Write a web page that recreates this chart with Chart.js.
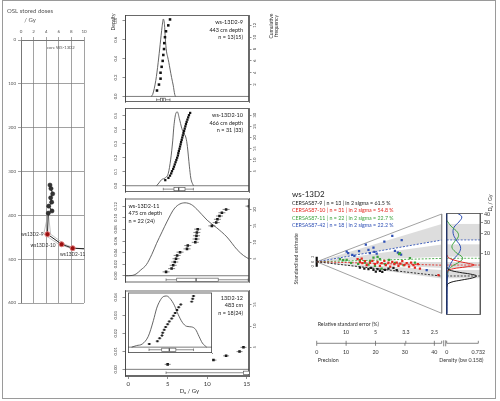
<!DOCTYPE html>
<html>
<head>
<meta charset="utf-8">
<title>ws-13D2</title>
<script src="https://cdn.jsdelivr.net/npm/chart.js@4.4.1/dist/chart.umd.min.js"></script>
<style>
  body { margin: 0; background: #fff; }
  #wrap { position: relative; width: 500px; height: 401px; overflow: hidden; }
  #frame { position: absolute; left: 2px; top: 0; width: 492px; height: 397px; border: 1px solid #9a9a9a; }
  canvas { position: absolute; }
</style>
</head>
<body>
<div id="wrap">
  <div id="frame"></div>
  <canvas id="cDepth" width="100" height="320" style="left:0;top:0"></canvas>
  <canvas id="cP9" width="182" height="106" style="left:108px;top:0"></canvas>
  <canvas id="cP10" width="182" height="92" style="left:108px;top:104px"></canvas>
  <canvas id="cP11" width="182" height="93" style="left:108px;top:194px"></canvas>
  <canvas id="cP12" width="182" height="114" style="left:108px;top:286px"></canvas>
  <canvas id="cInset" width="118" height="75" style="left:111px;top:288px"></canvas>
  <canvas id="cRadial" width="160" height="190" style="left:290px;top:185px"></canvas>
  <canvas id="cDens" width="59" height="190" style="left:436px;top:185px"></canvas>
</div>
<script>
const FONT = 'Lato, "Liberation Sans", sans-serif';
const font = sz => sz + 'px ' + FONT;

// ---- core profile: OSL stored doses vs depth ----
const coreDose  = [4.6, 4.76, 5.03, 4.71, 4.87, 4.4, 4.92, 4.33];
const coreDepth = [331, 339, 351, 360, 370, 379, 390, 395];
const smpName   = ['ws13D2-9', 'ws13D2-10', 'ws13D2-11'];
const smpDose   = [4.2, 6.45, 8.2];
const smpDepth  = [443, 466, 475];
const deepDose  = [20];    // ws13D2-12, off scale
const deepDepth = [483];
const envDepth  = [395, 443, 466, 475, 483];
const envLow    = [4.33, 3.6, 6.0, 7.9, 19];
const envHigh   = [4.33, 4.7, 6.9, 8.6, 21];
const doseTicks  = [0, 2, 4, 6, 8, 10];
const depthTicks = [0, 100, 200, 300, 400, 500, 600];

// ---- dose distributions (De in Gy) ----
const p9De   = [3.65, 3.9, 4.1, 4.1, 4.24, 4.37, 4.45, 4.54, 4.57, 4.66, 4.79, 5.08, 5.3];
const p9KdeX = [2.9, 3.1, 3.5, 3.8, 4.05, 4.3, 4.45, 4.6, 4.7, 4.85, 5.0, 5.15, 5.3, 5.5, 5.7, 5.9, 6.0];
const p9KdeY = [0, 0.02, 0.17, 0.36, 0.55, 0.74, 0.82, 0.76, 0.62, 0.48, 0.42, 0.36, 0.29, 0.2, 0.12, 0.02, 0];
const p9Box  = [3.6, 4.1, 4.4, 4.7, 5.3];

const p10De   = [4.7, 5.1, 5.3, 5.45, 5.55, 5.7, 5.8, 5.9, 6.0, 6.1, 6.2, 6.3, 6.35, 6.42, 6.5, 6.57, 6.64, 6.7, 6.78, 6.85,
                 6.92, 7.0, 7.08, 7.16, 7.24, 7.32, 7.4, 7.5, 7.6, 7.7, 7.85];
const p10KdeX = [3.6, 3.9, 4.24, 4.66, 5.08, 5.39, 5.64, 5.8, 6.06, 6.23, 6.48, 6.79, 6.99, 7.33, 7.5, 7.75, 7.93, 8.26];
const p10KdeY = [0, 0.02, 0.044, 0.055, 0.089, 0.19, 0.32, 0.43, 0.52, 0.527, 0.48, 0.41, 0.38, 0.34, 0.28, 0.14, 0.055, 0];
const p10Box  = [4.45, 5.8, 6.4, 7.2, 8.26];

const p11De   = [4.8, 5.5, 5.7, 5.9, 6.06, 6.2, 6.57, 7.45, 7.55, 8.5, 8.6, 8.65, 8.7, 8.8, 10.6, 11.15, 11.3, 11.56, 11.87, 12.4, 15.3, 15.5];
const p11KdeX = [-0.4, 0.5, 1.0, 1.6, 2.3, 3.0, 3.6, 4.3, 4.9, 5.9, 7.2, 8.0, 8.7, 10.0, 11.2, 12.5, 13.8, 14.6, 15.3];
const p11KdeY = [0, 0.0005, 0.003, 0.01, 0.019, 0.037, 0.056, 0.076, 0.093, 0.117, 0.126, 0.123, 0.115, 0.096, 0.083, 0.067, 0.045, 0.035, 0.029];
const p11Box  = [4.8, 6.15, 8.6, 11.4, 15.2];

const p12De   = [5.0, 10.8, 12.4, 14.1, 14.6, 15.7, 16.7, 18.1, 19.3, 21.0, 22.3, 23.5, 24.8, 26.0, 27.5, 35.3, 36.0, 36.6];
const p12Box  = [4.8, 14.6, 19.3, 24.0, 36.6];
const inBox   = [4.8, 13.9, 19.3, 24.0, 36.6];
const inKdeX  = [-7.6, -4, 0, 4.3, 7.9, 10.3, 12.6, 15, 17.4, 19.8, 22.9, 25.7, 28.6, 31.7, 35.3, 38.1, 40.5, 42.9, 46];
const inKdeY  = [0, 1.3, 2.6, 8.9, 21.7, 32, 38, 41.5, 42, 40, 34.4, 26.7, 20.4, 17.1, 16.6, 14.5, 8.9, 3.4, 0];   // x 1e-3
const inTicks = [0, 10, 20, 30, 40];
const deTicks = [0, 5, 10, 15];

// ---- abanico plot ----
const smpLab = ['CERSAS87-9', 'CERSAS87-10', 'CERSAS87-11', 'CERSAS87-42'];
const smpN   = [13, 31, 22, 18];
const smpIn2 = [61.5, 54.8, 22.7, 22.2];
const smpCol = ['#1a1a1a', '#e3261f', '#3da33d', '#2d4fb5'];
const deCentral = [4.49, 6.6, 8.38, 16];
const bandLo = [4.14, 5.95, 8.87, 16];
const bandHi = [5.55, 7.35, 13.7, 28.1];
const prec = [
  [14.7, 16.2, 17.6, 18.5, 19.3, 20.1, 20.7, 21.5, 22.3, 23.2, 24.4, 26.1, 27.2],
  [13.9, 14.7, 15.3, 15.5, 16.4, 17.0, 18.1, 18.9, 19.8, 20.7, 21.5, 22.1, 23.0, 23.5, 24.4, 25.0, 25.7, 26.4, 27.2, 27.8,
   28.4, 29.1, 29.8, 30.6, 31.4, 32.1, 32.9, 33.4, 34.4, 35.1, 41.4],
  [7.9, 9.0, 10.2, 11.7, 14.1, 14.7, 16.4, 17.6, 18.1, 19.3, 19.8, 20.7, 21.5, 22.1, 23.2, 24.6, 26.6, 28.0, 28.3, 29.5, 31.7, 33.4],
  [10.2, 10.7, 12.1, 12.8, 14.4, 16.7, 17.6, 18.1, 19.3, 19.6, 20.4, 23.0, 25.7, 26.6, 27.6, 28.9, 28.7, 37.4]
];
const stdEst = [
  [-2.3, -2.7, -2.9, -2.4, -3.2, -3.9, -2.9, -3.6, -4.0, -3.2, -2.7, -2.4, -3.3],
  [1.1, 0, 1.3, -0.5, 0.3, -1.3, -0.3, 0.4, -0.9, 0, -1.6, -0.5, 0.4, -1.3, -0.3, -1.9, 0, -0.9, -0.3, -1.6,
   -0.7, 0.3, -1.3, -0.5, -1.9, -0.3, -1.3, -2.3, -0.9, -2.7, -5.3],
  [1.1, 0.7, 0.8, -0.4, -0.8, 0.7, -0.3, -1.1, 0.4, 1.7, -1.6, 2.0, 1.1, -2.7, -0.9, 0.8, -0.4, 3.1, 3.5, -1.3, 1.5, -0.3],
  [4.1, 3.5, 2.8, 2.4, 4.3, 6.9, 4.8, 3.5, 5.7, 4.0, 3.3, 8.1, 10.4, 4.4, 3.7, 8.7, 2.9, -3.3]
];
const kdeDe = [
  [6.2, 5.6, 5.1, 4.8, 4.5, 4.2, 3.9, 3.6, 3.3, 3.0],
  [9.5, 8.5, 7.6, 7.0, 6.6, 6.2, 5.8, 5.4, 5.0],
  [32, 26, 21, 18, 15, 12.5, 10.5, 8.5, 7.4, 6.3, 5.3, 4.5],
  [41, 36, 30, 25, 20, 16, 12.5, 10, 8, 6, 4.5, 3, 1.2]
];
const kdeDens = [
  [0, 0.05, 0.3, 0.55, 0.69, 0.6, 0.35, 0.1, 0.01, 0],
  [0, 0.05, 0.25, 0.5, 0.64, 0.45, 0.15, 0.02, 0],
  [0, 0.1, 0.25, 0.27, 0.18, 0.12, 0.2, 0.37, 0.3, 0.12, 0.03, 0],
  [0.25, 0.35, 0.28, 0.17, 0.15, 0.22, 0.32, 0.28, 0.15, 0.05, 0.02, 0.01, 0.005]
];
const precTicks = [0, 10, 20, 30, 40];
const rseTicks  = [10, 5, 3.3, 2.5];
const densTicks = [0, 0.732];
const logTicks  = [10, 20, 30, 40];
const de0 = 7.44;          // central value at the origin
const zPerDecade = 26.1;   // standardised units per decade at the outer edge
const precMax = 42.5, stdMin = -20.6, stdMax = 19.1;

// ---- helpers ----
const pts = (xs, ys) => xs.map((v, i) => ({ x: v, y: ys[i] }));
const cum = xs => xs.map((v, i) => ({ x: v, y: i + 1 }));
const fixW = w => s => { if (s.options.display) s.width = w; };
const fixH = h => s => { if (s.options.display) s.height = h; };
const useTicks = arr => s => { s.ticks = arr.map(v => ({ value: v })); };
const edgeStd = de => Math.log10(de / de0) * zPerDecade;

function baseOpts(pad) {
  return {
    responsive: false, animation: false, events: [],
    layout: { padding: pad },
    plugins: { legend: { display: false }, tooltip: { enabled: false } }
  };
}

function rotText(ctx, txt, x, y, sz, col) {
  ctx.save();
  ctx.translate(x, y);
  ctx.rotate(-Math.PI / 2);
  ctx.font = font(sz);
  ctx.fillStyle = col;
  ctx.textAlign = 'center';
  ctx.textBaseline = 'middle';
  ctx.fillText(txt, 0, 0);
  ctx.restore();
}

function drawBox(ctx, a, xs, y, b) {
  const p = b.map(v => xs.getPixelForValue(v));
  ctx.save();
  ctx.beginPath(); ctx.rect(a.left, a.top, a.width, a.height); ctx.clip();
  ctx.strokeStyle = '#444'; ctx.lineWidth = 0.6;
  ctx.beginPath();
  ctx.moveTo(p[0], y); ctx.lineTo(p[1], y);
  ctx.moveTo(p[3], y); ctx.lineTo(p[4], y);
  ctx.moveTo(p[0], y - 1.3); ctx.lineTo(p[0], y + 1.3);
  ctx.moveTo(p[4], y - 1.3); ctx.lineTo(p[4], y + 1.3);
  ctx.stroke();
  ctx.fillStyle = '#fff';
  ctx.fillRect(p[1], y - 1.6, p[3] - p[1], 3.2);
  ctx.strokeRect(p[1], y - 1.6, p[3] - p[1], 3.2);
  ctx.lineWidth = 1.2;
  ctx.beginPath(); ctx.moveTo(p[2], y - 1.6); ctx.lineTo(p[2], y + 1.6); ctx.stroke();
  ctx.restore();
}

const tickFont = sz => ({ size: sz, family: FONT });

// ---- depth profile ----
const depthPlugin = {
  id: 'depthText',
  afterDraw(chart) {
    const { ctx, scales: { x, y } } = chart;
    ctx.save();
    ctx.fillStyle = '#555';
    ctx.textAlign = 'center'; ctx.textBaseline = 'middle';
    ctx.font = font(6);
    ctx.fillText('OSL stored doses', 30, 11);
    ctx.fillText('/ Gy', 30, 20);
    ctx.font = font(4.2); ctx.textAlign = 'left';
    ctx.fillText('core WS-13D2', 47, 48);
    const offs = [[-4, 0, 'right'], [-6, 1, 'right'], [0, 6, 'center']];
    ctx.font = font(4.8); ctx.fillStyle = '#333';
    smpName.forEach((n, i) => {
      ctx.textAlign = offs[i][2];
      ctx.fillText(n, x.getPixelForValue(smpDose[i]) + offs[i][0], y.getPixelForValue(smpDepth[i]) + offs[i][1]);
    });
    ctx.restore();
  }
};

new Chart(document.getElementById('cDepth'), {
  type: 'scatter',
  data: {
    datasets: [
      { data: pts(smpDose, smpDepth), pointRadius: 2.5, backgroundColor: '#9b1010', borderColor: '#e07a7a', borderWidth: 1 },
      { data: pts(coreDose, coreDepth), pointRadius: 2.1, backgroundColor: '#333', borderColor: '#222', borderWidth: 0.5 },
      { data: pts(coreDose.concat(smpDose, deepDose), coreDepth.concat(smpDepth, deepDepth)),
        showLine: true, pointRadius: 0, borderColor: '#222', borderWidth: 1 },
      { data: pts(envLow, envDepth), showLine: true, pointRadius: 0, borderColor: '#9a9a9a', borderWidth: 0.6 },
      { data: pts(envHigh, envDepth), showLine: true, pointRadius: 0, borderColor: '#9a9a9a', borderWidth: 0.6 }
    ]
  },
  options: Object.assign(baseOpts({ left: 0, top: 0, right: 16, bottom: 17 }), {
    scales: {
      x: { type: 'linear', position: 'top', min: 0, max: 10, afterBuildTicks: useTicks(doseTicks), afterFit: fixH(40),
           ticks: { font: tickFont(4.5), color: '#555', padding: 3 },
           grid: { color: '#7a7a7a', lineWidth: 0.7, tickLength: 3 }, border: { color: '#666', width: 0.7 } },
      y: { type: 'linear', reverse: true, min: 0, max: 600, afterBuildTicks: useTicks(depthTicks), afterFit: fixW(21),
           ticks: { font: tickFont(4.5), color: '#555', padding: 2 },
           grid: { color: '#7a7a7a', lineWidth: 0.7, tickLength: 3 }, border: { color: '#666', width: 0.7 } }
    }
  }),
  plugins: [depthPlugin]
});

// ---- distribution panels ----
function panelPlugin(o) {
  return {
    id: 'panelExtras',
    beforeDatasetsDraw(chart) {
      if (!o.inset) return;
      const { ctx, chartArea: a } = chart;
      ctx.save();
      ctx.fillStyle = '#fff';
      ctx.fillRect(a.left, a.top, a.width, a.height + 10);
      ctx.restore();
    },
    afterDraw(chart) {
      const { ctx, chartArea: a } = chart;
      const xs = chart.scales.x, yd = chart.scales.yd, yc = chart.scales.yc;
      ctx.save();
      ctx.strokeStyle = '#444'; ctx.lineWidth = 0.8;
      ctx.strokeRect(a.left + 0.4, a.top + 0.4, a.width - 0.8, a.height - 0.8);
      const y0 = yd.getPixelForValue(0);
      ctx.lineWidth = 0.7;
      ctx.beginPath(); ctx.moveTo(a.left, y0); ctx.lineTo(a.right, y0); ctx.stroke();
      drawBox(ctx, a, xs, y0 + o.boxGap, o.box);
      if (!o.inset) {
        yd.ticks.forEach(t => rotText(ctx, t.value.toFixed(o.dec), a.left - 9, yd.getPixelForValue(t.value), 4.2, '#444'));
        yc.ticks.forEach(t => rotText(ctx, String(t.value), a.right + 5.5, yc.getPixelForValue(t.value), 4.2, '#444'));
      }
      if (o.lines) {
        ctx.font = font(5.5); ctx.fillStyle = '#222'; ctx.textBaseline = 'middle'; ctx.textAlign = o.align;
        const tx = o.align === 'left' ? a.left + 3.5 : a.right - 6;
        o.lines.forEach((s, k) => ctx.fillText(s, tx, a.top + 7.5 + k * 7.4));
      }
      if (o.extra) o.extra(ctx, a);
      ctx.restore();
    }
  };
}

function makePanel(id, o) {
  const ds = [];
  if (o.err) ds.push({ data: cum(o.de), yAxisID: 'yc', pointStyle: 'line', pointRadius: o.err,
                       borderColor: '#333', borderWidth: 0.6 });
  ds.push({ data: cum(o.de), yAxisID: 'yc', pointStyle: 'rect', pointRadius: o.ptR || 1.8,
            backgroundColor: '#111', borderWidth: 0 });
  if (o.kdeX) ds.push({ data: pts(o.kdeX, o.kdeY), yAxisID: 'yd', showLine: true, borderColor: '#555', borderWidth: 0.9,
                        pointRadius: 0, cubicInterpolationMode: 'monotone', fill: false });
  const side = { display: true, ticks: { display: false },
                 grid: { display: !o.inset, drawOnChartArea: false, tickLength: 2.5, color: '#444', lineWidth: 0.6 },
                 border: { display: !o.inset, color: '#444', width: 0.8 } };
  new Chart(document.getElementById(id), {
    type: 'scatter',
    data: { datasets: ds },
    options: Object.assign(baseOpts(o.pad), {
      scales: {
        x: { type: 'linear', min: o.x[0], max: o.x[1], display: !!o.xTicks, afterBuildTicks: useTicks(o.xTicks || []),
             afterFit: fixH(o.xH || 0), ticks: { font: tickFont(o.xFont || 6), color: '#333', padding: 1.5 },
             grid: { drawOnChartArea: false, tickLength: o.xTL || 3, color: '#444', lineWidth: 0.6 },
             border: { color: '#444', width: 0.8 } },
        yd: Object.assign({ type: 'linear', position: 'left', min: o.dens[0], max: o.dens[1],
             afterBuildTicks: useTicks(o.densTicks), afterFit: fixW(o.sideW[0]) }, side),
        yc: Object.assign({ type: 'linear', position: 'right', min: o.cum[0], max: o.cum[1],
             afterBuildTicks: useTicks(o.cumTicks), afterFit: fixW(o.sideW[1]) }, side)
      }
    }),
    plugins: [panelPlugin(o)]
  });
}

makePanel('cP9', {
  de: p9De, kdeX: p9KdeX, kdeY: p9KdeY, box: p9Box, boxGap: 3.3, sideW: [17, 41],
  x: [-0.4, 15.3], dens: [-0.059, 0.863], cum: [-0.94, 13.75],
  densTicks: [0, 0.2, 0.4, 0.6, 0.8], cumTicks: [2, 4, 6, 8, 10, 12], dec: 1,
  pad: { left: 0, right: 0, top: 15, bottom: 2 },
  lines: ['ws-13D2-9', '443 cm depth', 'n = 13(15)'], align: 'right',
  extra(ctx, a) {
    rotText(ctx, 'Density', a.left - 12, a.top + 7, 5, '#333');
    rotText(ctx, 'Cumulative', a.right + 22.7, a.top + 11, 5, '#333');
    rotText(ctx, 'frequency', a.right + 27.7, a.top + 11, 5, '#333');
  }
});
makePanel('cP10', {
  de: p10De, kdeX: p10KdeX, kdeY: p10KdeY, box: p10Box, boxGap: 3.4, ptR: 1.6, sideW: [17, 41],
  x: [-0.4, 15.3], dens: [-0.0447, 0.555], cum: [-4.29, 33.2],
  densTicks: [0, 0.1, 0.2, 0.3, 0.4, 0.5], cumTicks: [5, 10, 15, 20, 25, 30], dec: 1,
  pad: { left: 0, right: 0, top: 1, bottom: 1 },
  lines: ['ws-13D2-10', '466 cm depth', 'n = 31 (33)'], align: 'right'
});
makePanel('cP11', {
  de: p11De, kdeX: p11KdeX, kdeY: p11KdeY, box: p11Box, boxGap: 4, err: 3.5, sideW: [17, 41],
  x: [-0.4, 15.3], dens: [-0.0115, 0.1333], cum: [-2.2, 23.3],
  densTicks: [0, 0.02, 0.04, 0.06, 0.08, 0.1, 0.12], cumTicks: [5, 10, 15, 20], dec: 2,
  pad: { left: 0, right: 0, top: 1, bottom: 1.5 },
  lines: ['ws-13D2-11', '475 cm depth', 'n = 22 (24)'], align: 'left'
});
makePanel('cP12', {
  de: p12De, box: p12Box, boxGap: 3.4, err: 3, sideW: [17, 41],
  x: [-0.4, 15.3], dens: [-0.0037, 0.0437], cum: [-1.74, 18.35],
  densTicks: [0, 0.01, 0.02, 0.03, 0.04], cumTicks: [5, 10, 15], dec: 2,
  xTicks: deTicks, xH: 24, xFont: 6,
  pad: { left: 0, right: 0, top: 1, bottom: 0 },
  lines: ['13D2-12', '483 cm', 'n = 18(24)'], align: 'right',
  extra(ctx, a) {
    ctx.font = font(6); ctx.fillStyle = '#333'; ctx.textAlign = 'center';
    ctx.fillText('D\u2091 / Gy', a.left + a.width * 0.52, a.bottom + 15);
  }
});
// inset: hidden side axes keep a real width, the canvas is widened so the plot area sits at 128..212
makePanel('cInset', {
  de: p12De, kdeX: inKdeX, kdeY: inKdeY, box: inBox, boxGap: 2.6, sideW: [17, 17],
  inset: true, ptR: 1.4, err: 1.8,
  x: [-10.2, 49.8], dens: [-4.8, 44.8], cum: [-2.2, 19.2],
  densTicks: [0, 20, 40], cumTicks: [0, 10],
  xTicks: inTicks, xH: 10, xFont: 4.5, xTL: 2,
  pad: { left: 0, right: 0, top: 0, bottom: 0 }
});

// ---- abanico plot: radial part ----
const radialPlugin = {
  id: 'radialExtras',
  beforeDatasetsDraw(chart) {
    const { ctx, scales: { x, y } } = chart;
    ctx.save();
    ctx.fillStyle = 'rgba(150,150,150,0.32)';
    bandLo.forEach((lo, i) => {
      ctx.beginPath();
      ctx.moveTo(x.getPixelForValue(0), y.getPixelForValue(0));
      ctx.lineTo(x.getPixelForValue(precMax), y.getPixelForValue(edgeStd(bandHi[i])));
      ctx.lineTo(x.getPixelForValue(precMax), y.getPixelForValue(edgeStd(lo)));
      ctx.closePath(); ctx.fill();
    });
    ctx.restore();
  },
  afterDraw(chart) {
    const { ctx, chartArea: a, scales: { x, y } } = chart;
    ctx.save();
    ctx.textBaseline = 'middle'; ctx.textAlign = 'left';
    ctx.font = font(8); ctx.fillStyle = '#222';
    ctx.fillText('ws-13D2', 2, 9);
    ctx.font = font(5.3);
    smpLab.forEach((l, i) => {
      ctx.fillStyle = smpCol[i];
      ctx.fillText(l + ' | n = ' + smpN[i] + ' | in 2 sigma = ' + smpIn2[i] + ' %', 2, 18.3 + i * 7.3);
    });
    rotText(ctx, 'Standardised estimate', a.left - 20.5, y.getPixelForValue(0) - 3, 5.3, '#333');
    [-2, 0, 2].forEach(v => rotText(ctx, String(v), a.left - 4, y.getPixelForValue(v), 3.3, '#333'));
    // precision / relative error axis
    const ay = a.bottom + 30;
    ctx.strokeStyle = '#555'; ctx.lineWidth = 0.7;
    ctx.beginPath();
    ctx.moveTo(x.getPixelForValue(0), ay); ctx.lineTo(x.getPixelForValue(precMax), ay);
    ctx.moveTo(x.getPixelForValue(0), ay); ctx.lineTo(x.getPixelForValue(0), ay - 2.5);
    ctx.moveTo(x.getPixelForValue(precMax), ay); ctx.lineTo(x.getPixelForValue(precMax), ay - 2.5);
    precTicks.forEach(v => { ctx.moveTo(x.getPixelForValue(v), ay); ctx.lineTo(x.getPixelForValue(v), ay + 2.5); });
    rseTicks.forEach(v => { ctx.moveTo(x.getPixelForValue(100 / v), ay); ctx.lineTo(x.getPixelForValue(100 / v), ay - 2.5); });
    ctx.moveTo(a.right + 2, ay - 3); ctx.lineTo(a.right + 2, ay + 3);
    ctx.moveTo(a.right + 4, ay - 3); ctx.lineTo(a.right + 4, ay + 3);
    ctx.stroke();
    ctx.fillStyle = '#333'; ctx.font = font(5.3); ctx.textAlign = 'center';
    precTicks.forEach(v => ctx.fillText(String(v), x.getPixelForValue(v), ay + 9));
    rseTicks.forEach(v => ctx.fillText(String(v), x.getPixelForValue(100 / v), ay - 11.5));
    ctx.textAlign = 'left';
    ctx.fillText('Relative standard error (%)', x.getPixelForValue(0) + 1, ay - 19.5);
    ctx.fillText('Precision', x.getPixelForValue(0) + 1, ay + 17.4);
    ctx.restore();
  }
};

const radialSets = [];
prec.forEach((p, i) => radialSets.push({ data: pts(p, stdEst[i]), pointStyle: 'rect', pointRadius: 1.6,
                                          backgroundColor: smpCol[i], borderWidth: 0 }));
deCentral.forEach((d, i) => radialSets.push({ data: pts([0, precMax], [0, edgeStd(d)]), showLine: true, pointRadius: 0,
                                               borderColor: smpCol[i], borderWidth: 0.9, borderDash: [2, 1.5] }));
radialSets.push({ data: pts([0, precMax, precMax, 0], [0, stdMax, stdMin, 0]), showLine: true, pointRadius: 0,
                  borderColor: '#8a8a8a', borderWidth: 0.8, clip: false });
radialSets.push({ data: pts([0, 0], [-2, 2]), showLine: true, pointRadius: 0, borderColor: '#111', borderWidth: 2.2, clip: false });

new Chart(document.getElementById('cRadial'), {
  type: 'scatter',
  data: { datasets: radialSets },
  options: Object.assign(baseOpts({ left: 26.7, right: 8.3, top: 29, bottom: 61.7 }), {
    scales: {
      x: { type: 'linear', min: 0, max: precMax, display: false },
      y: { type: 'linear', min: stdMin, max: stdMax, display: false }
    }
  }),
  plugins: [radialPlugin]
});

// ---- abanico plot: density part ----
const densPlugin = {
  id: 'densExtras',
  beforeDatasetsDraw(chart) {
    const { ctx, chartArea: a, scales: { y } } = chart;
    ctx.save();
    ctx.fillStyle = 'rgba(150,150,150,0.32)';
    bandLo.forEach((lo, i) => {
      const y1 = y.getPixelForValue(bandHi[i]), y2 = y.getPixelForValue(lo);
      ctx.fillRect(a.left, y1, a.width, y2 - y1);
    });
    ctx.restore();
  },
  afterDraw(chart) {
    const { ctx, chartArea: a, scales: { x } } = chart;
    ctx.save();
    ctx.strokeStyle = '#444'; ctx.lineWidth = 0.8;
    ctx.strokeRect(a.left, a.top, a.width, a.height);
    ctx.strokeStyle = '#223366'; ctx.lineWidth = 1.4;
    ctx.beginPath(); ctx.moveTo(x.getPixelForValue(0), a.top); ctx.lineTo(x.getPixelForValue(0), a.bottom); ctx.stroke();
    const ay = a.bottom + 28.8;
    ctx.strokeStyle = '#555'; ctx.lineWidth = 0.7;
    ctx.beginPath();
    ctx.moveTo(x.getPixelForValue(densTicks[0]), ay); ctx.lineTo(x.getPixelForValue(densTicks[1]), ay);
    densTicks.forEach(v => { ctx.moveTo(x.getPixelForValue(v), ay); ctx.lineTo(x.getPixelForValue(v), ay - 2.5); });
    ctx.stroke();
    ctx.fillStyle = '#333'; ctx.font = font(5.3); ctx.textAlign = 'center'; ctx.textBaseline = 'middle';
    densTicks.forEach(v => ctx.fillText(String(v), x.getPixelForValue(v), ay + 9));
    ctx.fillText('Density (bw 0.158)', (a.left + a.right) / 2 - 2, ay + 17.4);
    rotText(ctx, 'D\u2091 / Gy', a.right + 10, a.top - 10.5, 5.3, '#333');
    ctx.restore();
  }
};

const densSets = [];
kdeDe.forEach((d, i) => densSets.push({ type: 'line', data: pts(kdeDens[i], d), pointRadius: 0, borderColor: smpCol[i],
                                         borderWidth: 1, tension: 0.4, fill: false }));
deCentral.forEach((d, i) => densSets.push({ data: pts([0, 0.771], [d, d]), showLine: true, pointRadius: 0,
                                             borderColor: smpCol[i], borderWidth: 0.8, borderDash: [2, 1.5] }));

new Chart(document.getElementById('cDens'), {
  type: 'scatter',
  data: { datasets: densSets },
  options: Object.assign(baseOpts({ left: 10.7, right: 0, top: 28.5, bottom: 60.5 }), {
    scales: {
      x: { type: 'linear', min: 0, max: 0.771, display: false },
      y: { type: 'logarithmic', position: 'right', min: 1.156, max: 40.6, afterBuildTicks: useTicks(logTicks),
           afterFit: fixW(15),
           ticks: { font: tickFont(5.3), color: '#333', padding: 1, callback: v => String(v) },
           grid: { drawOnChartArea: false, tickLength: 3, color: '#444', lineWidth: 0.6 },
           border: { color: '#444', width: 0.8 } }
    }
  }),
  plugins: [densPlugin]
});
</script>
</body>
</html>
